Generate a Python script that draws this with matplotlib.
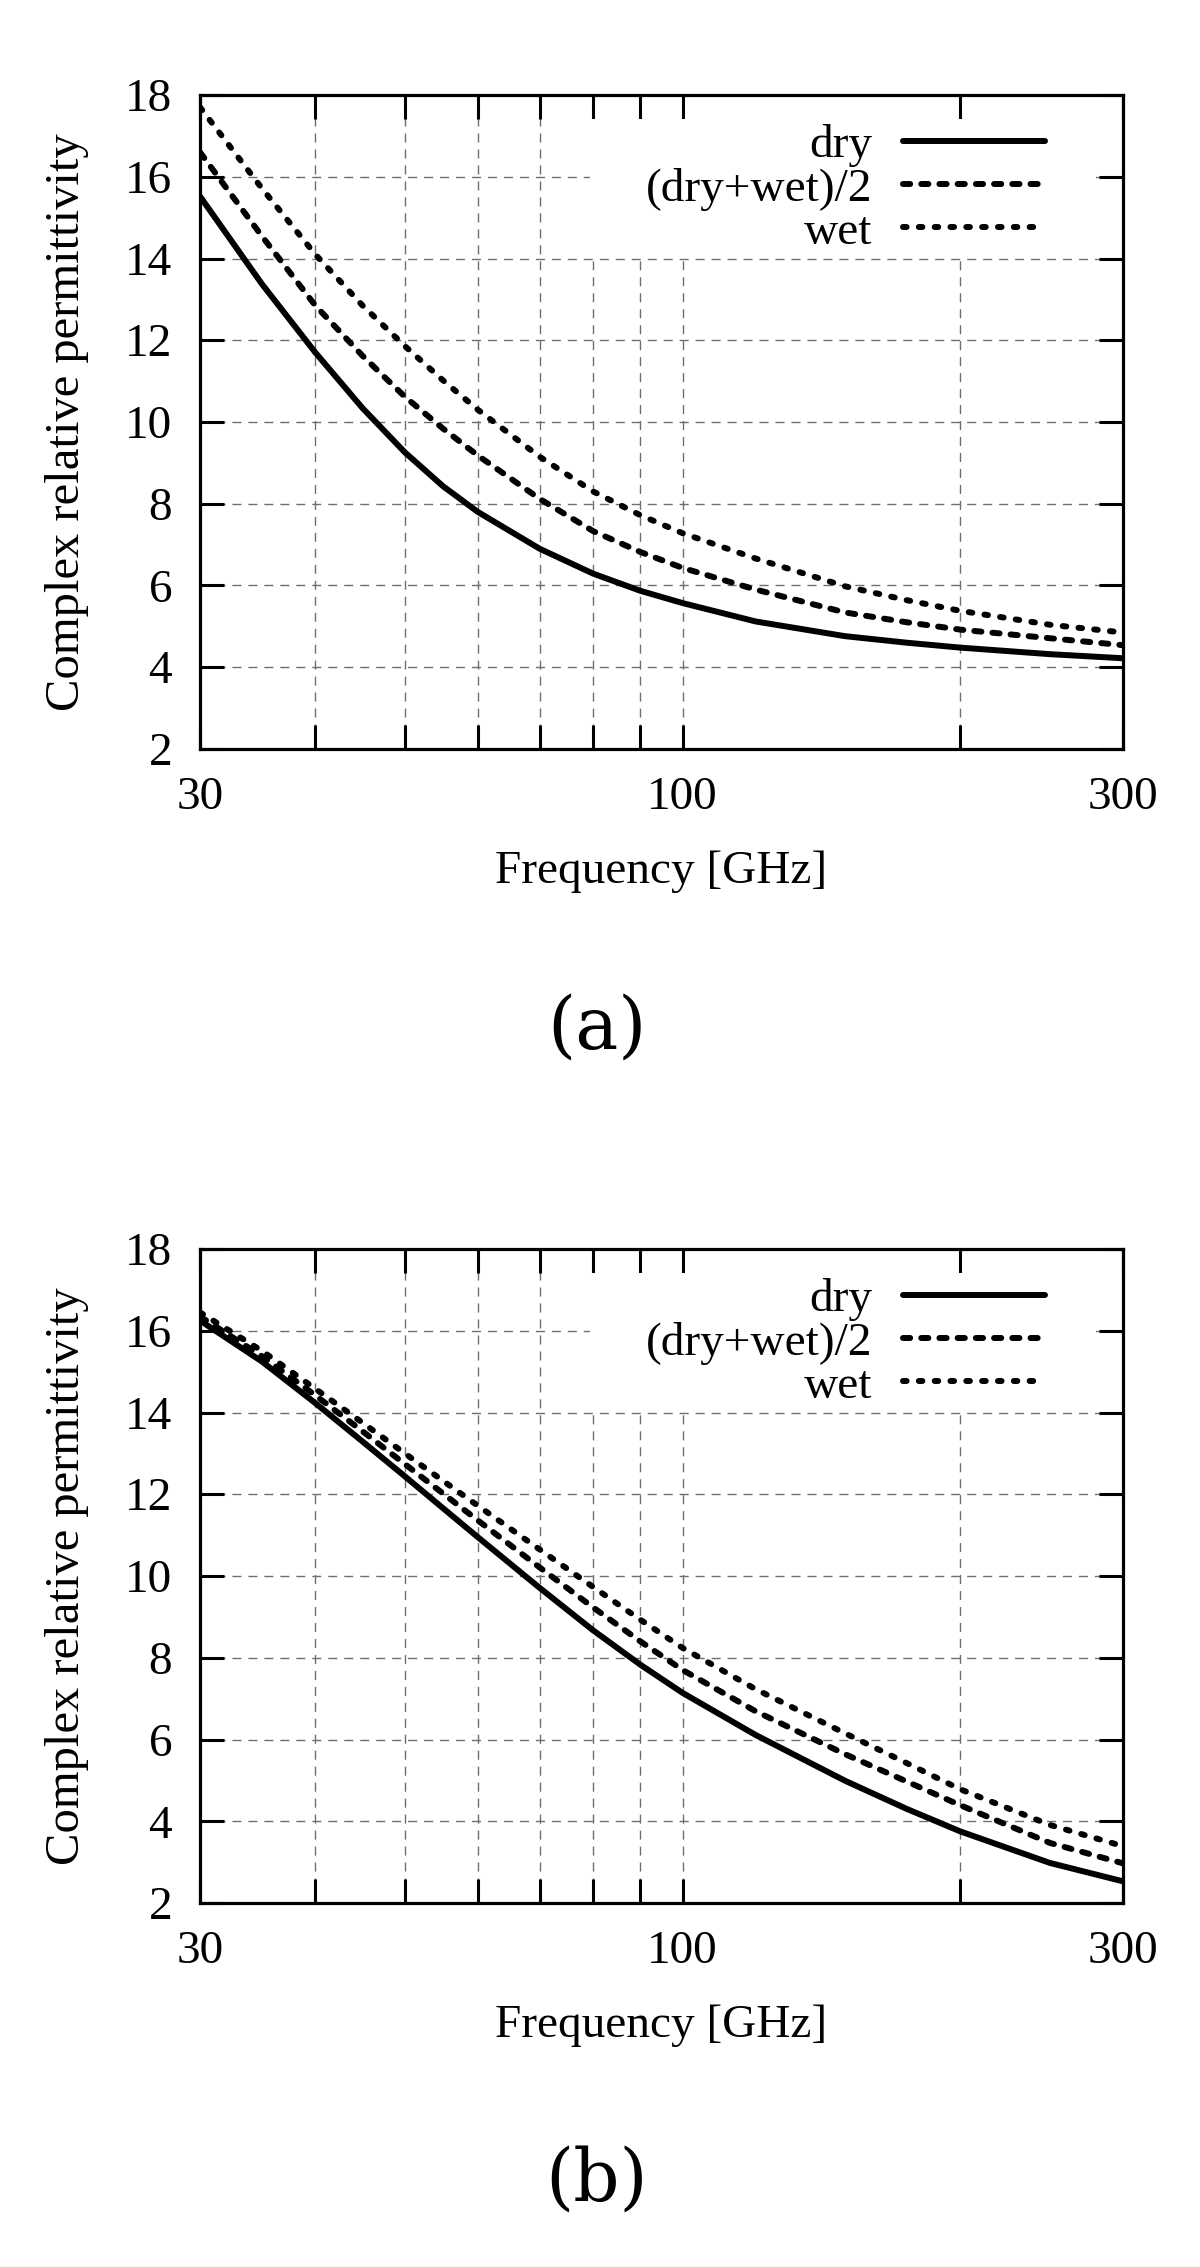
"""
Complex relative permittivity vs frequency, panels (a) and (b)
"""
import matplotlib
matplotlib.use("Agg")
import matplotlib.pyplot as plt
from matplotlib.ticker import FixedLocator, NullFormatter, FixedFormatter
from matplotlib.patches import Rectangle

plt.rcParams["font.family"] = ["Liberation Serif", "DejaVu Serif"]

FREQ = [30, 35, 40, 45, 50, 55, 60, 70, 80, 90, 100, 120, 150, 175, 200, 250, 300]

# panel (a)
A_DRY = [15.52, 13.38, 11.70, 10.34, 9.26, 8.43, 7.80, 6.90, 6.29, 5.87, 5.57, 5.12, 4.76, 4.60, 4.48, 4.32, 4.22]
A_MID = [16.60, 14.55, 12.85, 11.62, 10.62, 9.84, 9.18, 8.12, 7.33, 6.82, 6.43, 5.90, 5.34, 5.10, 4.92, 4.71, 4.54]
A_WET = [17.70, 15.72, 14.10, 12.85, 11.86, 11.02, 10.30, 9.15, 8.30, 7.72, 7.28, 6.66, 5.98, 5.64, 5.38, 5.04, 4.85]

# panel (b)
B_DRY = [16.25, 15.25, 14.23, 13.29, 12.44, 11.66, 10.95, 9.71, 8.67, 7.83, 7.14, 6.11, 4.99, 4.30, 3.75, 2.98, 2.53]
B_MID = [16.35, 15.38, 14.42, 13.54, 12.74, 12.02, 11.36, 10.21, 9.23, 8.40, 7.70, 6.69, 5.64, 4.97, 4.39, 3.47, 2.97]
B_WET = [16.45, 15.51, 14.58, 13.75, 13.00, 12.33, 11.72, 10.65, 9.73, 8.93, 8.24, 7.23, 6.15, 5.42, 4.78, 3.91, 3.39]

LABELS = ["dry", "(dry+wet)/2", "wet"]
X_MAJOR = [30, 100, 300]
X_MINOR = [40, 50, 60, 70, 80, 90, 200]
Y_TICKS = [2, 4, 6, 8, 10, 12, 14, 16, 18]

FS = 34
LW = 4.3
GRID = dict(color="#6f6f6f", lw=1.0, linestyle=(0, (6.5, 5)))
STYLES = [
    dict(linestyle="-"),
    dict(linestyle=(0, (1.2, 1.85))),
    dict(linestyle=(0, (0.6, 2.05))),
]


def panel(ax, series):
    for vals, lab, st in zip(series, LABELS, STYLES):
        ax.plot(FREQ, vals, color="black", lw=LW, label=lab,
                solid_capstyle="round", dash_capstyle="round", zorder=3, **st)
    ax.set_xscale("log")
    ax.set_xlim(30, 300)
    ax.set_ylim(2, 18)
    ax.xaxis.set_major_locator(FixedLocator(X_MAJOR))
    ax.xaxis.set_major_formatter(FixedFormatter([str(v) for v in X_MAJOR]))
    ax.xaxis.set_minor_locator(FixedLocator(X_MINOR))
    ax.xaxis.set_minor_formatter(NullFormatter())
    ax.set_yticks(Y_TICKS)
    ax.tick_params(which="both", direction="in", top=True, right=True,
                   length=17, width=2.2, labelsize=FS)
    ax.tick_params(axis="x", pad=19.5)
    ax.tick_params(axis="y", pad=20)
    for s in ax.spines.values():
        s.set_linewidth(2.3)
    ax.set_axisbelow(True)
    ax.grid(True, axis="x", which="both", **GRID)
    ax.grid(True, axis="y", which="major", **GRID)
    # opaque key box hides the grid behind the legend
    ax.add_patch(Rectangle((0.4225, 0.7554), 0.5482, 0.2079, transform=ax.transAxes,
                           facecolor="white", edgecolor="none", zorder=1))
    ax.legend(loc="upper right", bbox_to_anchor=(0.9155, 0.955), frameon=False,
              markerfirst=False, fontsize=FS, handlelength=3.0, handletextpad=0.65,
              borderpad=0, borderaxespad=0, labelspacing=0.0)
    ax.text(-0.1441, 0.5, "Complex relative permittivity", transform=ax.transAxes,
            rotation=90, ha="center", va="center", fontsize=35)
    ax.text(0.5, -0.188, "Frequency [GHz]", transform=ax.transAxes,
            ha="center", va="center", fontsize=FS)


fig = plt.figure(figsize=(12, 22.67), dpi=100)
ax_a = fig.add_axes([200 / 1200, 1 - 749 / 2267, 923 / 1200, 654 / 2267])
ax_b = fig.add_axes([200 / 1200, 1 - 1903 / 2267, 923 / 1200, 654 / 2267])
panel(ax_a, [A_DRY, A_MID, A_WET])
panel(ax_b, [B_DRY, B_MID, B_WET])

fig.text(597 / 1200, 1 - 1028 / 2267, "(a)", ha="center", va="center",
         fontsize=52, family="DejaVu Serif")
fig.text(597 / 1200, 1 - 2180 / 2267, "(b)", ha="center", va="center",
         fontsize=52, family="DejaVu Serif")

fig.savefig("out.png", dpi=100, facecolor="white")
